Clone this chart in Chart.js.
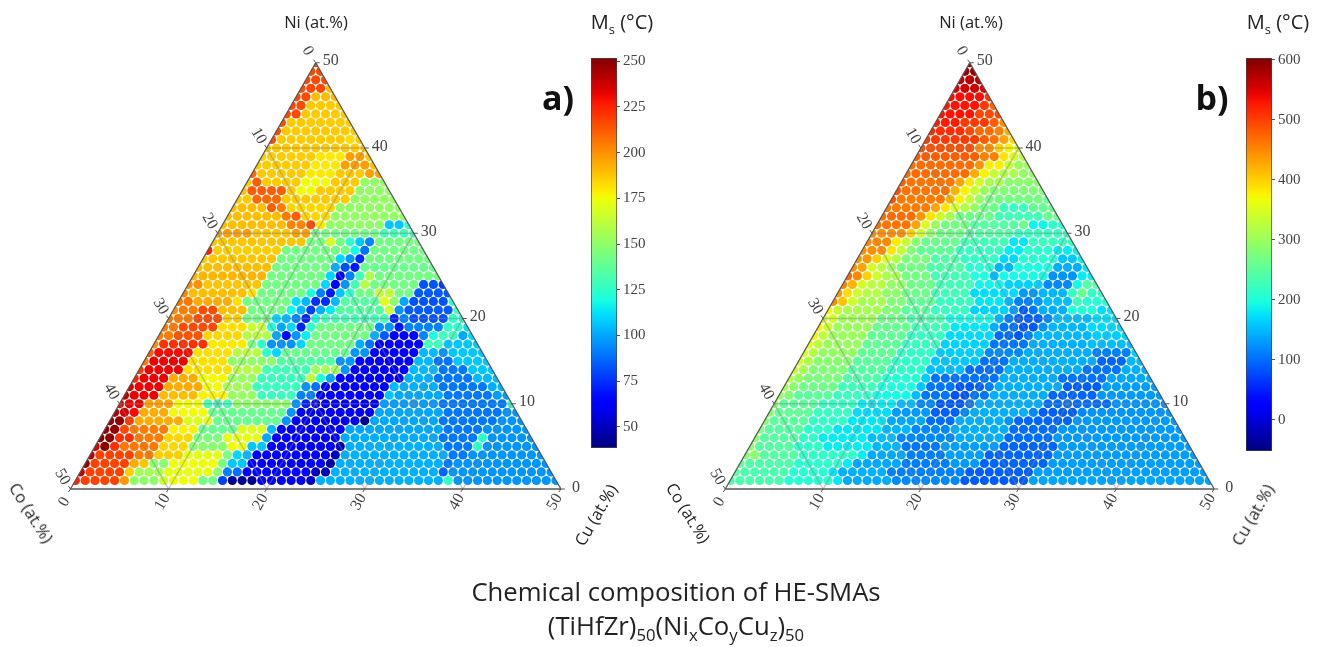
<!DOCTYPE html>
<html>
<head>
<meta charset="utf-8">
<title>Ms of HE-SMAs</title>
<script src="https://cdn.jsdelivr.net/npm/chart.js@4/dist/chart.umd.min.js"></script>
<style>
    html, body { margin: 0; padding: 0; background: #fff; }
    body { position: relative; width: 1320px; height: 647px; overflow: hidden; }
    canvas { position: absolute; filter: blur(0.4px); }
    .txt { position: absolute; transform: translate(-50%, -50%); white-space: nowrap; color: #222; font-family: "Open Sans", sans-serif; line-height: 1; }
    .txt sub { font-size: 65%; line-height: 0; }
    .axis-name { font-size: 16.5px; }
    .ms { font-size: 20px; }
    .letter { font-size: 34px; font-weight: 700; color: #111; }
    .title { font-size: 25.7px; }
</style>
</head>
<body>
<canvas id="ternary_a" width="637" height="623" style="left:7px;top:7px"></canvas>
<canvas id="ternary_b" width="635" height="623" style="left:662px;top:7px"></canvas>
<canvas id="bar_a" width="66" height="414" style="left:591px;top:46px"></canvas>
<canvas id="bar_b" width="66" height="417" style="left:1246px;top:46px"></canvas>

<div class="txt axis-name" style="left:316px;top:22px">Ni (at.%)</div>
<div class="txt axis-name" style="left:31px;top:513px;transform:translate(-50%,-50%) rotate(58deg)">Co (at.%)</div>
<div class="txt axis-name" style="left:596px;top:515px;transform:translate(-50%,-50%) rotate(-60deg)">Cu (at.%)</div>
<div class="txt axis-name" style="left:971px;top:22px">Ni (at.%)</div>
<div class="txt axis-name" style="left:688px;top:513px;transform:translate(-50%,-50%) rotate(58deg)">Co (at.%)</div>
<div class="txt axis-name" style="left:1253px;top:515px;transform:translate(-50%,-50%) rotate(-60deg)">Cu (at.%)</div>
<div class="txt ms" style="left:622px;top:22px">M<sub>s</sub> (°C)</div>
<div class="txt ms" style="left:1278px;top:22px">M<sub>s</sub> (°C)</div>
<div class="txt letter" style="left:558px;top:97px">a)</div>
<div class="txt letter" style="left:1212px;top:97px">b)</div>
<div class="txt title" style="left:676px;top:592px">Chemical composition of HE-SMAs</div>
<div class="txt title" style="left:676px;top:626px">(TiHfZr)<sub>50</sub>(Ni<sub>x</sub>Co<sub>y</sub>Cu<sub>z</sub>)<sub>50</sub></div>

<script>
var sideTicks = [0, 10, 20, 30, 40, 50];
var gridLevels = [10, 20, 30, 40];
var barTicksA = [50, 75, 100, 125, 150, 175, 200, 225, 250];
var barTicksB = [0, 100, 200, 300, 400, 500, 600];
var barRangeA = [38.4, 251.8];
var barRangeB = [-52, 603];

// Ms, one row per Ni level from 50 down to 1, as value,count pairs
var msRowsA = [
    [216,1],
    [216,2],
    [216,3],
    [216,3,190,1],
    [216,2,190,3],
    [216,2,187,4],
    [216,2,187,5],
    [216,1,187,7],
    [216,1,187,8],
    [216,1,187,7,183,1,186,1],
    [187,11],
    [186,6,180,3,197,2,187,1],
    [187,6,180,3,197,3,190,1],
    [209,1,187,5,180,3,187,3,197,2],
    [187,1,212,1,187,4,175,3,187,3,151,3],
    [190,1,212,4,187,1,175,2,187,4,151,4],
    [187,2,209,3,187,7,151,5],
    [190,4,212,1,205,1,184,5,151,7],
    [190,6,205,1,212,1,184,3,151,8],
    [190,7,203,2,216,1,180,1,151,6,107,2,125,1],
    [197,4,188,4,197,2,143,7,130,4],
    [188,10,143,2,168,1,143,1,125,1,107,1,93,1,143,5],
    [226,1,186,7,143,7,118,1,89,1,143,6],
    [188,8,143,6,110,1,96,1,74,1,143,7],
    [190,8,143,6,102,1,82,1,70,1,140,8],
    [192,8,143,6,110,1,62,1,93,1,130,1,158,1,143,7],
    [200,2,188,6,143,6,110,1,66,1,96,1,130,1,160,1,143,5,82,2,78,1],
    [203,1,190,6,182,1,143,5,121,1,92,1,70,1,107,1,125,1,143,2,162,2,143,2,84,4],
    [206,2,194,4,182,1,143,5,112,1,104,1,74,2,104,1,135,4,172,1,150,1,100,1,82,4,125,1],
    [200,1,205,2,216,2,190,3,143,4,118,1,104,1,78,1,102,1,114,1,135,5,166,1,96,1,84,5,130,1],
    [205,3,216,3,186,2,143,3,110,1,104,1,93,1,72,1,120,1,130,7,72,1,93,1,82,4,125,2],
    [205,2,216,4,182,3,165,2,120,1,100,1,110,1,72,1,125,1,143,6,96,2,70,1,92,4,125,2,112,1],
    [205,2,214,3,184,4,160,3,100,1,66,1,96,1,115,1,143,6,102,1,84,1,62,3,93,1,120,1,130,2,100,1,110,1],
    [200,1,222,5,180,4,143,1,125,1,96,3,110,1,143,5,102,1,89,1,62,5,130,2,107,4],
    [212,1,230,4,182,4,160,3,125,1,110,1,140,7,96,2,62,5,104,2,96,1,107,4],
    [205,1,232,4,182,4,150,5,135,6,96,2,62,6,104,2,89,2,107,4],
    [220,1,232,4,182,5,160,3,130,5,155,3,96,1,62,6,104,3,90,3,107,3],
    [225,1,232,3,194,3,176,3,152,3,128,5,162,1,122,1,100,1,62,7,102,3,90,4,104,3],
    [235,1,232,3,194,4,176,2,155,3,128,5,96,1,89,1,62,7,104,1,102,4,90,5,102,2],
    [240,1,232,3,190,4,178,3,152,3,128,4,92,2,62,7,107,1,100,5,90,5,98,2],
    [232,3,196,3,176,3,130,3,150,6,96,1,72,1,60,7,98,6,90,7,125,1],
    [242,1,235,1,230,1,194,3,176,4,140,8,96,1,60,8,100,7,90,6,96,2],
    [248,2,220,1,194,5,170,3,140,7,96,1,60,7,42,1,100,7,90,6,96,3],
    [248,2,216,1,205,4,178,3,140,4,170,3,104,1,62,7,100,10,90,4,96,5],
    [250,2,222,2,205,3,184,3,145,3,172,4,100,1,62,7,101,10,90,4,125,1,96,5],
    [235,1,250,1,222,1,206,4,184,3,148,4,176,1,172,1,107,2,62,7,50,1,102,10,90,3,125,1,96,6],
    [240,1,218,4,205,2,186,3,172,4,145,1,110,1,104,1,62,8,50,1,102,11,90,2,96,8],
    [248,1,218,4,194,1,188,1,148,2,175,5,145,1,107,2,62,8,46,1,102,11,90,1,96,10],
    [240,1,218,4,186,1,155,3,172,5,150,1,92,1,89,1,66,7,50,2,102,11,86,1,96,11],
    [225,1,218,4,198,1,150,3,165,1,175,3,143,2,78,1,42,3,60,5,52,1,102,13,125,1,96,11]
];

var msRowsB = [
    [593,1],
    [590,2],
    [570,3],
    [555,4],
    [535,4,508,1],
    [531,4,505,1,475,1],
    [531,4,495,3],
    [525,3,505,3,480,1,445,1],
    [515,4,495,1,470,2,455,1,425,1],
    [505,6,480,1,465,1,430,1,395,1],
    [490,6,445,2,400,1,375,1,345,1],
    [480,7,455,2,385,1,345,1,320,1],
    [470,7,440,1,380,2,335,1,300,2],
    [470,7,425,1,375,1,335,1,315,2,295,2],
    [480,1,465,5,430,1,385,1,345,1,310,2,285,4],
    [490,1,465,5,420,1,375,1,335,1,300,1,280,6],
    [490,1,460,5,420,1,375,1,335,1,295,1,270,6,255,1],
    [460,5,430,1,385,1,345,1,320,1,295,1,265,2,222,3,258,3],
    [470,4,440,1,385,1,340,1,310,1,265,4,230,5,260,2],
    [465,4,430,1,350,1,300,1,270,3,245,5,265,1,188,2,215,2],
    [445,4,400,1,340,1,290,1,265,3,245,5,222,6],
    [450,3,380,1,330,1,285,1,260,4,230,5,178,2,222,5],
    [445,3,385,1,335,1,285,1,255,4,222,5,182,2,212,3,182,3],
    [440,2,400,1,345,1,320,1,275,3,240,3,218,4,170,2,207,4,158,2,182,1],
    [445,1,430,1,345,1,325,1,300,1,270,3,240,4,207,3,148,2,198,4,142,3,178,1],
    [470,1,450,1,400,1,340,1,310,2,270,3,230,4,203,2,152,1,192,5,125,3,182,2],
    [455,1,420,1,345,1,325,2,295,2,265,3,230,4,188,3,165,4,118,3,192,1,245,2],
    [440,1,390,1,340,1,320,2,290,2,265,3,230,4,172,5,128,2,148,3,222,1,262,1,218,2],
    [450,1,410,1,340,1,310,3,280,2,255,3,222,4,178,3,148,1,112,2,128,1,152,3,228,1,207,2,203,1],
    [375,1,335,1,310,4,280,2,250,3,222,4,165,4,132,1,88,1,105,1,142,3,203,3,172,2],
    [345,2,305,4,265,3,238,4,192,5,148,1,112,1,85,1,90,2,118,1,152,4,172,3],
    [375,1,340,1,300,4,260,4,228,4,178,4,142,1,105,2,85,2,125,1,148,4,170,4],
    [375,1,330,1,300,4,255,4,222,4,170,5,100,2,85,1,112,1,148,6,162,4],
    [360,1,325,1,300,4,255,4,222,4,165,5,105,4,142,6,152,5],
    [350,1,320,1,295,4,255,4,218,4,162,5,118,4,142,7,112,4,165,1],
    [345,1,315,1,285,4,250,4,215,4,158,5,103,3,142,9,95,3,148,2],
    [335,1,310,1,280,4,245,4,215,4,152,4,100,4,142,8,103,4,142,3],
    [320,1,295,1,275,4,240,4,207,4,162,1,103,7,142,6,103,5,138,5],
    [310,1,285,1,265,4,228,4,198,4,158,1,105,3,85,2,95,1,112,1,142,7,90,4,132,6],
    [300,1,280,1,250,4,222,4,192,4,152,1,105,3,82,2,105,2,142,6,95,5,128,7],
    [290,1,250,4,222,4,182,4,152,2,118,2,88,3,105,1,142,7,100,7,125,6],
    [285,1,255,4,222,4,172,4,128,4,90,3,118,1,142,6,118,1,90,4,118,1,125,9],
    [285,1,250,4,218,4,178,4,138,4,100,3,142,5,125,1,95,6,128,11],
    [280,1,245,4,212,3,178,5,148,3,118,4,142,6,100,5,128,13],
    [285,1,245,4,215,2,182,5,152,3,118,6,142,5,100,5,128,14],
    [290,1,245,4,215,3,182,5,148,3,105,4,132,6,95,6,130,14],
    [280,1,285,1,245,4,215,6,182,1,138,4,110,4,132,4,95,7,130,15],
    [260,1,240,5,212,5,182,1,138,5,110,5,128,3,95,7,130,16],
    [250,1,235,5,207,4,178,1,142,5,112,8,90,7,132,18],
    [235,6,207,5,178,1,140,5,118,7,88,7,135,19]
];

function lerpStops(stops, t) {
    for (var i = 1; i < stops.length; i++) {
        if (t <= stops[i][0]) {
            var a = stops[i - 1], b = stops[i];
            return a[1] + (b[1] - a[1]) * (t - a[0]) / (b[0] - a[0]);
        }
    }
    return stops[stops.length - 1][1];
}

// same breakpoints as the matplotlib jet map
function jetColor(t) {
    t = Math.max(0, Math.min(1, t));
    var r = lerpStops([[0, 0], [0.35, 0], [0.66, 1], [0.89, 1], [1, 0.5]], t);
    var g = lerpStops([[0, 0], [0.125, 0], [0.375, 1], [0.64, 1], [0.91, 0], [1, 0]], t);
    var b = lerpStops([[0, 0.5], [0.11, 1], [0.34, 1], [0.65, 0], [1, 0]], t);
    return 'rgb(' + Math.round(r * 255) + ',' + Math.round(g * 255) + ',' + Math.round(b * 255) + ')';
}

function expandRow(pairs, size) {
    var out = [];
    for (var i = 0; i < pairs.length; i += 2) {
        for (var n = 0; n < pairs[i + 1]; n++) out.push(pairs[i]);
    }
    while (out.length < size) out.push(pairs[pairs.length - 2]);
    return out.slice(0, size);
}

// Ni level + Cu level to the plot plane
function toPlane(ni, cu) {
    return { x: cu + ni / 2, y: ni };
}

function getDots(rows, range) {
    var points = [], colors = [];
    rows.forEach(function (pairs, r) {
        var ni = 50 - r;
        expandRow(pairs, 51 - ni).forEach(function (ms, cu) {
            points.push(toPlane(ni, cu));
            colors.push(jetColor((ms - range[0]) / (range[1] - range[0])));
        });
    });
    return { points: points, colors: colors };
}

function lineSet(a, b, color, width, order) {
    return { type: 'scatter', data: [a, b], showLine: true, pointRadius: 0, borderColor: color, borderWidth: width, order: order, clip: false };
}

var ternaryPlugin = {
    id: 'ternaryPlugin',
    beforeDatasetDraw: function (chart, args) {
        if (args.index !== 0) return;
        var sx = chart.scales.x, sy = chart.scales.y, ctx = chart.ctx;
        ctx.save();
        ctx.beginPath();
        ctx.moveTo(sx.getPixelForValue(0), sy.getPixelForValue(0));
        ctx.lineTo(sx.getPixelForValue(50), sy.getPixelForValue(0));
        ctx.lineTo(sx.getPixelForValue(25), sy.getPixelForValue(50));
        ctx.closePath();
        ctx.clip();
    },
    afterDatasetDraw: function (chart, args) {
        if (args.index === 0) chart.ctx.restore();
    },
    afterDraw: function (chart) {
        var sx = chart.scales.x, sy = chart.scales.y, ctx = chart.ctx;
        function put(label, p, dx, dy, angle, tx, ty) {
            var px = sx.getPixelForValue(p.x), py = sy.getPixelForValue(p.y);
            ctx.strokeStyle = '#555';
            ctx.lineWidth = 1;
            ctx.beginPath();
            ctx.moveTo(px, py);
            ctx.lineTo(px + tx, py + ty);
            ctx.stroke();
            ctx.save();
            ctx.translate(px + dx, py + dy);
            ctx.rotate(angle * Math.PI / 180);
            ctx.fillText(label, 0, 0);
            ctx.restore();
        }
        ctx.save();
        ctx.font = '16px "Liberation Serif", serif';
        ctx.fillStyle = '#444';
        ctx.textAlign = 'center';
        ctx.textBaseline = 'middle';
        sideTicks.forEach(function (v) {
            put(String(v), toPlane(v, 50 - v), 15, -1.5, 0, 4, 0);
            put(String(v), toPlane(50 - v, 0), -8, -12, 60, -2, -3);
            put(String(v), toPlane(0, v), -6, 13, -60, -2, 3);
        });
        ctx.restore();
    }
};

function getTernaryConfig(rows, range) {
    var dots = getDots(rows, range);
    var datasets = [{
        data: dots.points,
        pointBackgroundColor: dots.colors,
        pointBorderWidth: 0,
        pointRadius: 4.6,
        pointHoverRadius: 4.6,
        showLine: false,
        order: 2
    }];
    gridLevels.forEach(function (v) {
        var c = 'rgba(130, 130, 130, 0.45)';
        datasets.push(lineSet(toPlane(v, 0), toPlane(v, 50 - v), c, 1.5, 1));
        datasets.push(lineSet(toPlane(0, v), toPlane(50 - v, v), c, 1.5, 1));
        datasets.push(lineSet(toPlane(0, v), toPlane(v, 0), c, 1.5, 1));
    });
    var edge = '#555';
    datasets.push(lineSet(toPlane(0, 0), toPlane(0, 50), edge, 1.7, 0));
    datasets.push(lineSet(toPlane(0, 0), toPlane(50, 0), edge, 1.3, 0));
    datasets.push(lineSet(toPlane(0, 50), toPlane(50, 0), edge, 1.3, 0));
    return {
        type: 'scatter',
        data: { datasets: datasets },
        options: {
            responsive: false,
            animation: false,
            layout: { padding: 0 },
            plugins: { legend: { display: false }, tooltip: { enabled: false } },
            scales: {
                x: { type: 'linear', min: -6, max: 58, display: false },
                y: { type: 'linear', min: -16, max: 56, display: false }
            }
        },
        plugins: [ternaryPlugin]
    };
}

function getBarConfig(range, ticks) {
    return {
        type: 'bar',
        data: {
            labels: ['Ms'],
            datasets: [{
                data: [range],
                barPercentage: 1,
                categoryPercentage: 1,
                borderColor: '#444',
                borderWidth: 1,
                borderSkipped: false,
                backgroundColor: function (context) {
                    var area = context.chart.chartArea;
                    if (!area) return '#00f';
                    var g = context.chart.ctx.createLinearGradient(0, area.bottom, 0, area.top);
                    for (var i = 0; i <= 50; i++) g.addColorStop(i / 50, jetColor(i / 50));
                    return g;
                }
            }]
        },
        options: {
            responsive: false,
            animation: false,
            layout: { padding: { top: 10, bottom: 10 } },
            plugins: { legend: { display: false }, tooltip: { enabled: false } },
            scales: {
                x: { display: false },
                y: {
                    position: 'right',
                    min: range[0],
                    max: range[1],
                    afterBuildTicks: function (axis) {
                        axis.ticks = ticks.map(function (v) { return { value: v }; });
                    },
                    afterFit: function (axis) { axis.width = 40; },
                    border: { display: false },
                    grid: { drawOnChartArea: false, drawTicks: true, tickLength: 3, color: '#555' },
                    ticks: { color: '#444', padding: 3, font: { family: '"Liberation Serif", serif', size: 15 } }
                }
            }
        }
    };
}

new Chart(document.getElementById('ternary_a').getContext('2d'), getTernaryConfig(msRowsA, barRangeA));
new Chart(document.getElementById('ternary_b').getContext('2d'), getTernaryConfig(msRowsB, barRangeB));
new Chart(document.getElementById('bar_a').getContext('2d'), getBarConfig(barRangeA, barTicksA));
new Chart(document.getElementById('bar_b').getContext('2d'), getBarConfig(barRangeB, barTicksB));
</script>
</body>
</html>
